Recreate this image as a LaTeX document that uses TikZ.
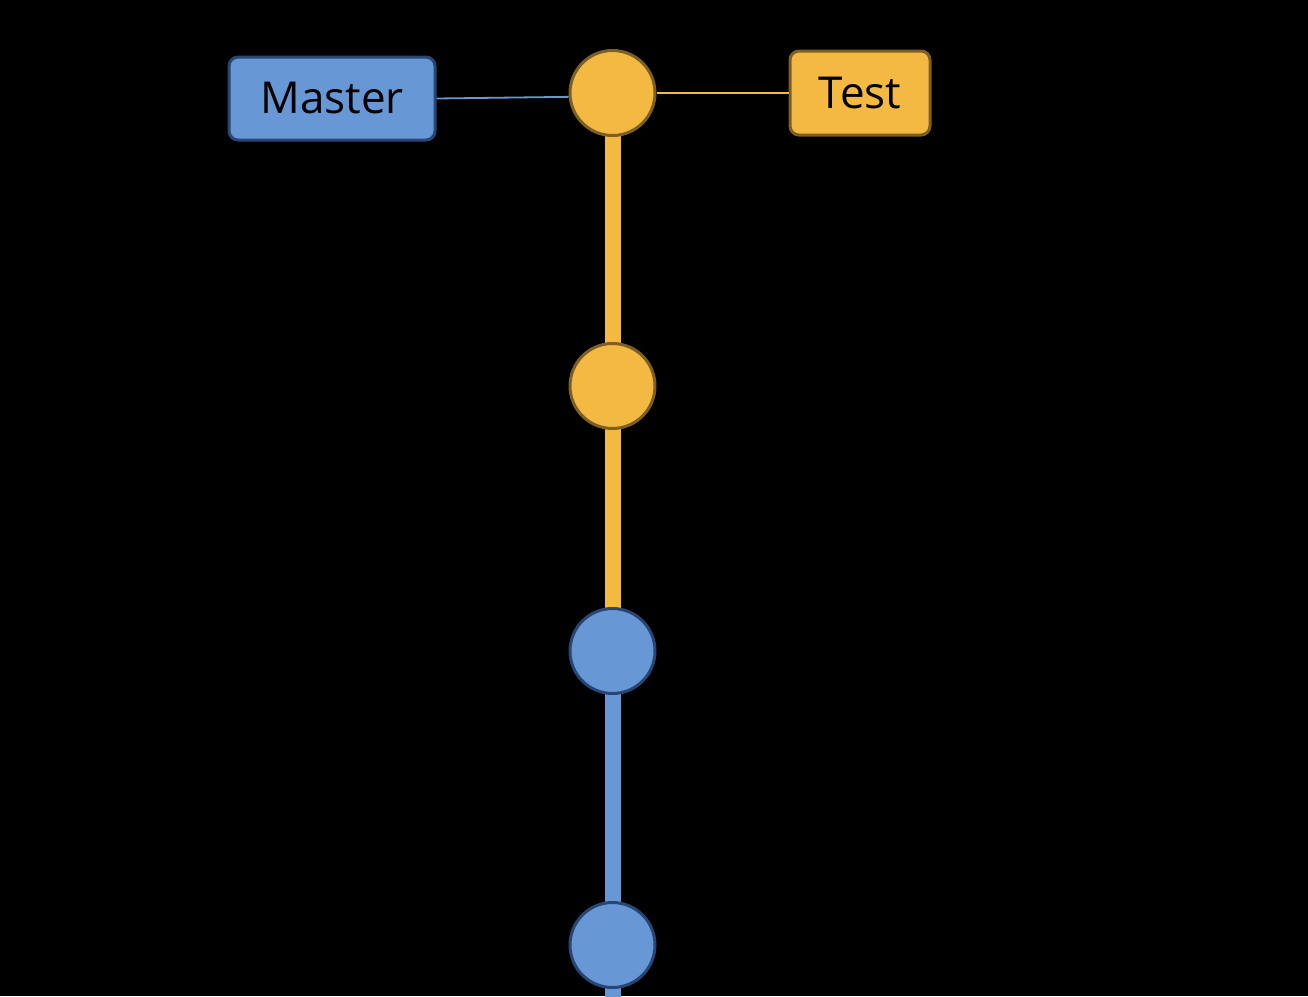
\documentclass[tikz,border=0pt]{standalone}
\usepackage{fontspec}
\setmainfont{Open Sans}
\usetikzlibrary{backgrounds}
\definecolor{bfill}{RGB}{103,152,213}
\definecolor{bdraw}{RGB}{40,70,115}
\definecolor{ofill}{RGB}{244,185,66}
\definecolor{odraw}{RGB}{125,95,35}
\tikzset{
  commit/.style={circle, minimum size=85pt, inner sep=0pt, line width=3pt},
  bluecommit/.style={commit, fill=bfill, draw=bdraw},
  orangecommit/.style={commit, fill=ofill, draw=odraw},
  label box/.style={rounded corners=9pt, line width=3pt, inner sep=0pt, font=\fontsize{44}{50}\selectfont, text=black},
  trunk/.style={line width=16pt},
  pointer/.style={line width=1.8pt}
}
\begin{document}
\begin{tikzpicture}[x=1pt,y=-1pt]
\useasboundingbox (0,0) rectangle (1308,996);
\node[orangecommit] (c1) at (612.5,93) {};
\node[orangecommit] (c2) at (612.5,386) {};
\node[bluecommit] (c3) at (612.5,651) {};
\node[bluecommit] (c4) at (612.5,945) {};
\coordinate (bot) at (612.5,1000);
\node[label box, fill=bfill, draw=bdraw, minimum width=206pt, minimum height=83pt] (master) at (332,98.5) {Master};
\node[label box, fill=ofill, draw=odraw, minimum width=140pt, minimum height=84pt] (test) at (860,93) {Test};
\begin{scope}[on background layer]
\fill[black] (0,0) rectangle (1308,996);
\draw[trunk, ofill] (c1.center) -- (c2.center);
\draw[trunk, ofill] (c2.center) -- (c3.center);
\draw[trunk, bfill] (c3.center) -- (c4.center);
\draw[trunk, bfill] (c4.center) -- (bot);
\end{scope}
\draw[pointer, bfill] (master.east) -- (c1.185);
\draw[pointer, ofill] (c1.east) -- (test.west);
\end{tikzpicture}
\end{document}
